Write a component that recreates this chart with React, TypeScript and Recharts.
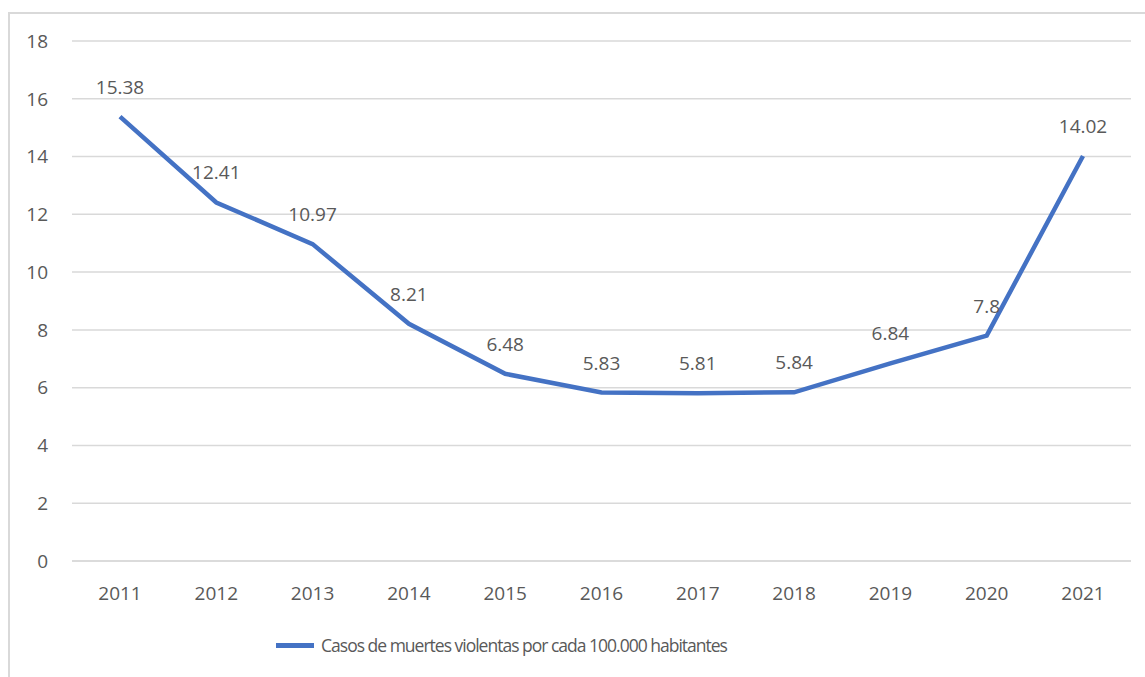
import React from "react";
import {
  LineChart,
  Line,
  XAxis,
  YAxis,
  CartesianGrid,
  Legend,
  LabelList,
} from "recharts";

const YEARS = ["2011", "2012", "2013", "2014", "2015", "2016", "2017", "2018", "2019", "2020", "2021"];
const RATES = [15.38, 12.41, 10.97, 8.21, 6.48, 5.83, 5.81, 5.84, 6.84, 7.8, 14.02];
const Y_TICKS = [0, 2, 4, 6, 8, 10, 12, 14, 16, 18];
const SERIES_NAME = "Casos de muertes violentas por cada 100.000 habitantes";

const data = YEARS.map((year, i) => ({ year, rate: RATES[i] }));

const BLUE = "#4472C4";
const GRID = "#d9d9d9";
const TEXT = "#595959";
const FONT = "'Open Sans', sans-serif";

const tickStyle = { fill: TEXT, fontSize: 19, fontFamily: FONT };

function LegendContent() {
  return (
    <div
      style={{
        display: "flex",
        alignItems: "center",
        justifyContent: "center",
        height: 30,
        fontFamily: FONT,
        fontSize: 17.5,
        color: TEXT,
        letterSpacing: -1,
        paddingRight: 128,
      }}
    >
      <span
        style={{
          display: "inline-block",
          width: 38,
          height: 5,
          background: BLUE,
          marginRight: 7,
        }}
      />
      <span>{SERIES_NAME}</span>
    </div>
  );
}

export default function App() {
  return (
    <div style={{ position: "absolute", left: 0, top: 0, width: 1145, height: 677, overflow: "hidden", background: "#fff" }}>
      <div
        style={{
          position: "absolute",
          left: 8,
          top: 12,
          width: 1137,
          height: 665,
          boxSizing: "border-box",
          borderLeft: `2px solid ${GRID}`,
          borderTop: `2px solid ${GRID}`,
        }}
      />
      <LineChart
        width={1145}
        height={677}
        data={data}
        margin={{ top: 41, right: 14, left: 0, bottom: 17 }}
        style={{ position: "absolute", left: 0, top: 0 }}
      >
        <CartesianGrid stroke={GRID} strokeWidth={1.5} vertical={false} />
        <XAxis
          dataKey="year"
          axisLine={{ stroke: GRID, strokeWidth: 1.5 }}
          tickLine={false}
          tick={tickStyle}
          tickMargin={20}
          height={69}
          padding={{ left: 48, right: 48 }}
        />
        <YAxis
          domain={[0, 18]}
          ticks={Y_TICKS}
          axisLine={false}
          tickLine={false}
          tick={tickStyle}
          tickSize={0}
          tickMargin={24}
          width={72}
        />
        <Legend verticalAlign="bottom" height={30} content={<LegendContent />} />
        <Line
          type="linear"
          dataKey="rate"
          name={SERIES_NAME}
          stroke={BLUE}
          strokeWidth={4.5}
          dot={false}
          isAnimationActive={false}
        >
          <LabelList
            dataKey="rate"
            position="top"
            offset={23}
            style={{ fill: TEXT, fontSize: 19, fontFamily: FONT }}
          />
        </Line>
      </LineChart>
    </div>
  );
}
